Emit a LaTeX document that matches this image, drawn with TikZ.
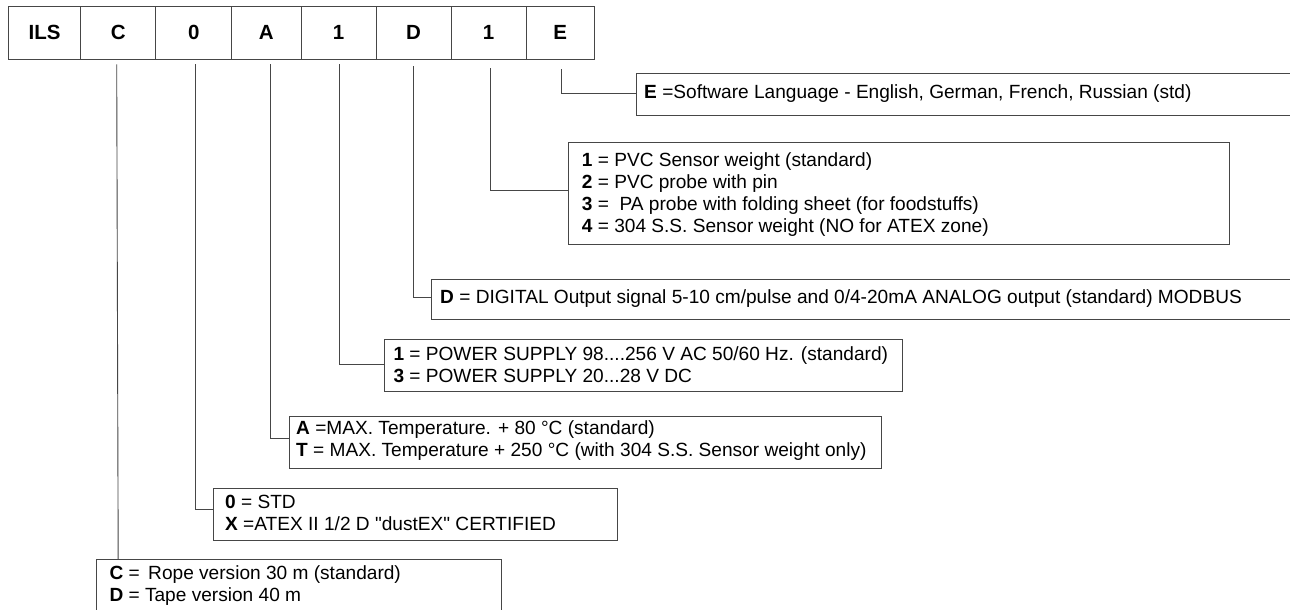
\documentclass[tikz,border=0pt]{standalone}
\usepackage{fontspec}
\setmainfont{Liberation Sans}
\font\rawqf="Liberation Sans" at 19.1pt
\newcommand{\sq}{{\rawqf\char34}}
\usetikzlibrary{calc}
\definecolor{linec}{RGB}{70,70,70}
\tikzset{
  cell/.style={draw=linec, line width=0.9pt, minimum height=53.3pt, inner sep=0pt,
    font=\fontsize{20.5}{22}\selectfont\bfseries, text=black},
  optbox/.style={draw=linec, line width=0.9pt, anchor=north west, inner sep=0pt},
  txt/.style={anchor=west, align=left, inner sep=0pt, text=black,
    font=\fontsize{19.1}{22}\selectfont},
  conn/.style={draw=linec, line width=0.9pt}
}
\begin{document}
\begin{tikzpicture}[x=1pt, y=-1pt]
\useasboundingbox (0,0) rectangle (1290,610);
\clip (0,0) rectangle (1290,610);
\fill[white] (0,0) rectangle (1290,610);
% top row
\node[cell, minimum width=72.4pt] (cILS) at (44.5,32.65) {ILS};
\node[cell, minimum width=75pt] (cC) at (118.2,32.65) {C};
\node[cell, minimum width=76pt] (c0) at (193.7,32.65) {0};
\node[cell, minimum width=69.3pt] (cA) at (266.35,32.65) {A};
\node[cell, minimum width=75pt] (c1a) at (338.5,32.65) {1};
\node[cell, minimum width=75pt] (cD) at (413.5,32.65) {D};
\node[cell, minimum width=75pt] (c1b) at (488.5,32.65) {1};
\node[cell, minimum width=68.3pt] (cE) at (560.15,32.65) {E};
% option boxes
\node[optbox, minimum width=670pt, minimum height=42.3pt] (bE) at (635.7,72.7) {};
\node[optbox, minimum width=661pt, minimum height=102.8pt] (b1b) at (568.3,141.5) {};
\node[optbox, minimum width=870pt, minimum height=40pt] (bD) at (431,279.3) {};
\node[optbox, minimum width=518pt, minimum height=52pt] (b1a) at (384,339) {};
\node[optbox, minimum width=592pt, minimum height=52pt] (bA) at (289.3,416) {};
\node[optbox, minimum width=403.4pt, minimum height=51.7pt] (b0) at (213.3,488.3) {};
\node[optbox, minimum width=404.6pt, minimum height=70pt] (bC) at (96,559.3) {};
% texts
\node[txt] (tE) at (644,93.3) {\textbf{E} =Software Language - English, German, French, Russian (std)};
\node[txt] (t1b) at (581.7,195) {\textbf{1} = PVC Sensor weight (standard)\\
\textbf{2} = PVC probe with pin\\
\textbf{3} = \ PA probe with folding sheet (for foodstuffs)\\
\textbf{4} = 304 S.S. Sensor weight (NO for ATEX zone)};
\node[txt] (tD) at (440,299) {\textbf{D} = DIGITAL Output signal 5-10 cm/pulse and 0/4-20mA ANALOG output (standard) MODBUS};
\node[txt] (t1a) at (393.3,365) {\textbf{1} = POWER SUPPLY 98....256 V AC 50/60 Hz. (standard)\\
\textbf{3} = POWER SUPPLY 20...28 V DC};
\node[txt] (tA) at (296,441) {\textbf{A} =MAX. Temperature. + 80 °C (standard)\\
\textbf{T} = MAX. Temperature + 250 °C (with 304 S.S. Sensor weight only)};
\node[txt] (t0) at (225,512.5) {\textbf{0} = STD\\
\textbf{X} =ATEX II 1/2 D \sq dustEX\sq{} CERTIFIED};
\node[txt] (tC) at (109.3,586) {\textbf{C} = \,Rope version 30 m (standard)\\
\textbf{D} = Tape version 40 m};
% connectors
\draw[conn] ([xshift=0.8pt,yshift=-9.7pt]cE.south) |- ([yshift=1pt]bE.west);
\draw[conn] ([xshift=1.5pt,yshift=-8.7pt]c1b.south) |- ([yshift=3pt]b1b.west);
\draw[conn] ([xshift=0.2pt,yshift=-6.4pt]cD.south) |- ([yshift=2.6pt]bD.west);
\draw[conn] ([xshift=1.2pt,yshift=-4.7pt]c1a.south) |- ([yshift=0.7pt]b1a.west);
\draw[conn] ([xshift=3.6pt,yshift=-4.7pt]cA.south) |- ([yshift=3.7pt]bA.west);
\draw[conn] ([xshift=1.8pt,yshift=-4.7pt]c0.south) |- ([yshift=4.8pt]b0.west);
\draw[conn] ([xshift=-1.5pt,yshift=-4.7pt]cC.south) -- (cC.south |- bC.north);
\end{tikzpicture}
\end{document}
